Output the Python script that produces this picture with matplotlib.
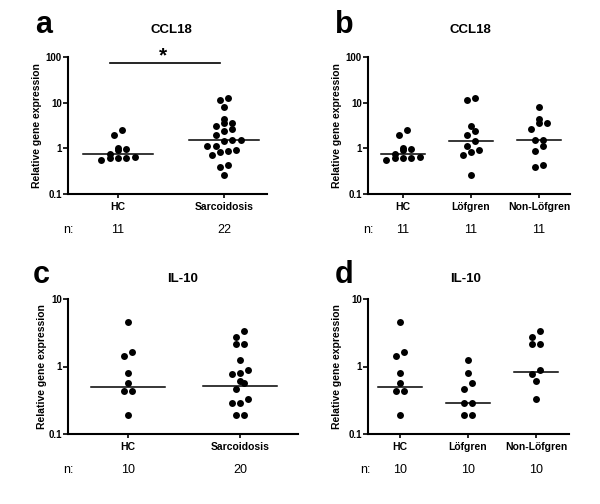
import numpy as np
import matplotlib
matplotlib.use('Agg')
import matplotlib.pyplot as plt
from matplotlib import transforms
from matplotlib.ticker import NullLocator

plt.rcParams['font.family'] = ['Liberation Sans', 'DejaVu Sans']

# CCL18 relative expression
ccl18_hc = [2.5, 2.0, 1.03, 0.95, 0.92, 0.76, 0.64, 0.62, 0.61, 0.61, 0.56]
ccl18_lofgren = [12.7, 11.3, 3.1, 2.4, 2.0, 1.44, 1.14, 0.92, 0.84, 0.71, 0.26]
ccl18_nonlofgren = [8.0, 4.5, 3.6, 3.5, 2.7, 1.5, 1.5, 1.12, 0.87, 0.43, 0.39]
ccl18_sarc = ccl18_lofgren + ccl18_nonlofgren

# IL-10 relative expression (only detectable samples are drawn)
il10_hc = [4.5, 1.63, 1.44, 0.81, 0.57, 0.43, 0.43, 0.19]
il10_lofgren = [1.26, 0.80, 0.57, 0.47, 0.29, 0.29, 0.19, 0.19]
il10_nonlofgren = [3.38, 2.78, 2.15, 2.15, 0.89, 0.78, 0.60, 0.33]
il10_sarc = il10_lofgren + il10_nonlofgren

groups_2 = ['HC', 'Sarcoidosis']
groups_3 = ['HC', 'Löfgren', 'Non-Löfgren']
n_a = [11, 22]
n_b = [11, 11, 11]
n_c = [10, 20]
n_d = [10, 10, 10]

fig = plt.figure(figsize=(6, 5.04), dpi=100)
W, H = 600.0, 504.0


def add_axes_px(left, top, right, bottom):
    return fig.add_axes([left / W, 1 - bottom / H, (right - left) / W, (bottom - top) / H])


def swarm_offsets(ax, xpos, vals, row_h=6.0, gap=8.3):
    # spread points that sit on the same "row" (in pixels) symmetrically
    vals = np.asarray(vals, dtype=float)
    pts = ax.transData.transform(np.column_stack([np.full(len(vals), xpos), vals]))
    ypx = pts[:, 1]
    ppu = ax.transData.transform([[1, 1]])[0, 0] - ax.transData.transform([[0, 1]])[0, 0]
    order = np.argsort(ypx)
    offsets = np.zeros(len(vals))
    i = 0
    while i < len(order):
        start = ypx[order[i]]
        row = [order[i]]
        j = i + 1
        while j < len(order) and ypx[order[j]] - start < row_h:
            row.append(order[j])
            j += 1
        row = sorted(row, key=lambda k: vals[k])
        m = len(row)
        for r, k in enumerate(row):
            offsets[k] = (r - (m - 1) / 2) * gap / ppu
        i = j
    return offsets


def draw_panel(ax, groups, data, ns, ylim, yticks, yticklabels, xlim, label_x):
    ax.set_yscale('log')
    ax.set_ylim(ylim)
    ax.set_xlim(xlim)
    for i, vals in enumerate(data):
        offs = swarm_offsets(ax, i, vals)
        ax.scatter(i + offs, vals, s=25, color='black', zorder=3, clip_on=False, linewidths=0)
        padded = list(vals) + [0.0] * (ns[i] - len(vals))
        med = np.median(padded)
        ax.plot([i - 0.33, i + 0.33], [med, med], color='black', lw=1.1, zorder=2)
    ax.set_yticks(yticks)
    ax.set_yticklabels(yticklabels, fontsize=7, fontweight='bold')
    ax.yaxis.set_minor_locator(NullLocator())
    ax.set_xticks(range(len(groups)))
    ax.set_xticklabels(groups, fontsize=7.5, fontweight='bold')
    ax.tick_params(axis='y', direction='out', length=3.5, width=1.2, pad=1)
    ax.tick_params(axis='x', direction='out', length=3, width=1.2, pad=2.5)
    for s in ['top', 'right']:
        ax.spines[s].set_visible(False)
    for s in ['left', 'bottom']:
        ax.spines[s].set_linewidth(1.5)
    ax.set_ylabel('Relative gene expression', fontsize=7.5, fontweight='bold')
    ax.yaxis.set_label_coords(label_x, 0.5)


ax_a = add_axes_px(68, 57, 267, 194)
draw_panel(ax_a, groups_2, [ccl18_hc, ccl18_sarc], n_a, (0.1, 100),
           [0.1, 1, 10, 100], ['0.1', '1', '10', '100'], (-0.472, 1.406), -0.131)
ax_b = add_axes_px(368, 57, 570, 194)
draw_panel(ax_b, groups_3, [ccl18_hc, ccl18_lofgren, ccl18_nonlofgren], n_b, (0.1, 100),
           [0.1, 1, 10, 100], ['0.1', '1', '10', '100'], (-0.515, 2.456), -0.129)
ax_c = add_axes_px(68, 299, 298, 434)
draw_panel(ax_c, groups_2, [il10_hc, il10_sarc], n_c, (0.1, 10),
           [0.1, 1, 10], ['0.1', '1', '10'], (-0.536, 1.518), -0.091)
ax_d = add_axes_px(368, 299, 569, 434)
draw_panel(ax_d, groups_3, [il10_hc, il10_lofgren, il10_nonlofgren], n_d, (0.1, 10),
           [0.1, 1, 10], ['0.1', '1', '10'], (-0.47, 2.485), -0.129)

# significance bar in panel a
ax_a.plot([-0.075, 0.962], [75, 75], color='black', lw=1.2, clip_on=False)
ax_a.text(0.425, 80, '*', ha='center', va='baseline', fontsize=15, fontweight='bold', clip_on=False)

# panel letters and titles
for letter, x, y in [('a', 35, 33), ('b', 335, 33), ('c', 33, 283), ('d', 335, 283)]:
    fig.text(x / W, 1 - y / H, letter, fontsize=22, fontweight='bold', va='baseline')
for title, x, y in [('CCL18', 171, 33), ('CCL18', 470, 33), ('IL-10', 183, 282), ('IL-10', 466, 282)]:
    fig.text(x / W, 1 - y / H, title, fontsize=9.5, fontweight='bold', ha='center', va='baseline')

# n row under each panel
for ax, ns, nx, ny in [(ax_a, n_a, 63, 230), (ax_b, n_b, 363, 230),
                       (ax_c, n_c, 63, 470), (ax_d, n_d, 360, 470)]:
    tr = transforms.blended_transform_factory(ax.transData, fig.transFigure)
    fig.text(nx / W, 1 - ny / H, 'n:', fontsize=9, ha='left', va='center')
    for i, n in enumerate(ns):
        ax.text(i, 1 - ny / H, str(n), transform=tr, fontsize=9, ha='center', va='center')

fig.savefig('out.png', dpi=100)
